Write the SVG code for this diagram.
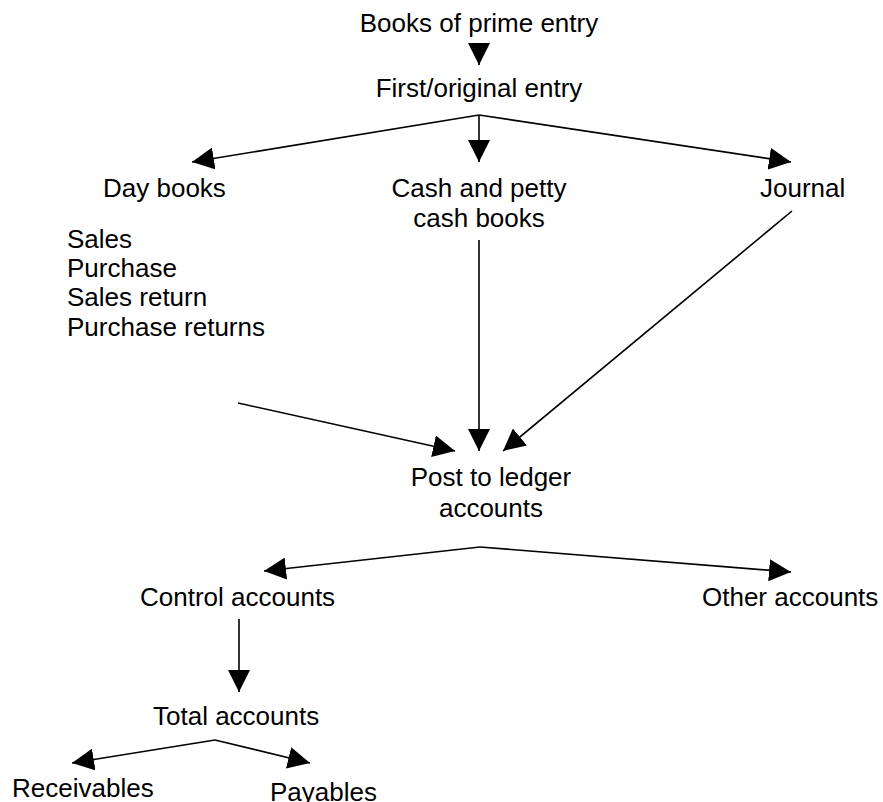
<svg xmlns="http://www.w3.org/2000/svg" width="883" height="802" viewBox="0 0 883 802">
  <style>
    text { font-family: "Liberation Sans", Arial, sans-serif; font-size: 26px; fill: #000; }
    .mid { text-anchor: middle; }
    .edge { stroke: #000; stroke-width: 1.6; fill: none; marker-end: url(#head); }
  </style>
  <defs>
    <marker id="head" markerUnits="userSpaceOnUse" markerWidth="22" markerHeight="22" viewBox="0 0 20 20" refX="20" refY="10" orient="auto">
      <path d="M0,0 L20,10 L0,20 Z" fill="#000"/>
    </marker>
  </defs>
  <rect width="883" height="802" fill="#fff"/>

  <g id="connectors">
    <path class="edge" d="M479,46 L479,65"/>
    <path class="edge" d="M479,115 L192,162"/>
    <path class="edge" d="M479,115 L479,162"/>
    <path class="edge" d="M479,115 L791,162"/>
    <path class="edge" d="M479,240 L479,451"/>
    <path class="edge" d="M792,211 L503,451"/>
    <path class="edge" d="M238,403 L455,451"/>
    <path class="edge" d="M480,547 L264,571"/>
    <path class="edge" d="M480,547 L791,572"/>
    <path class="edge" d="M239,619 L239,692"/>
    <path class="edge" d="M215,740 L72,763"/>
    <path class="edge" d="M215,740 L310,763"/>
  </g>

  <g id="books-of-prime-entry"><text class="mid" x="479" y="32">Books of prime entry</text></g>
  <g id="first-original-entry"><text class="mid" x="479" y="97">First/original entry</text></g>
  <g id="day-books"><text x="103" y="197">Day books</text></g>
  <g id="day-book-types">
    <text x="67" y="248">Sales</text>
    <text x="67" y="277">Purchase</text>
    <text x="67" y="306">Sales return</text>
    <text x="67" y="336">Purchase returns</text>
  </g>
  <g id="cash-books">
    <text class="mid" x="479" y="197">Cash and petty</text>
    <text class="mid" x="479" y="227">cash books</text>
  </g>
  <g id="journal"><text x="760" y="197">Journal</text></g>
  <g id="post-to-ledger">
    <text class="mid" x="491" y="486">Post to ledger</text>
    <text class="mid" x="491" y="517">accounts</text>
  </g>
  <g id="control-accounts"><text x="140" y="606">Control accounts</text></g>
  <g id="other-accounts"><text x="702" y="606">Other accounts</text></g>
  <g id="total-accounts"><text x="153" y="725">Total accounts</text></g>
  <g id="receivables"><text x="12" y="797">Receivables</text></g>
  <g id="payables"><text x="270" y="801">Payables</text></g>
</svg>
